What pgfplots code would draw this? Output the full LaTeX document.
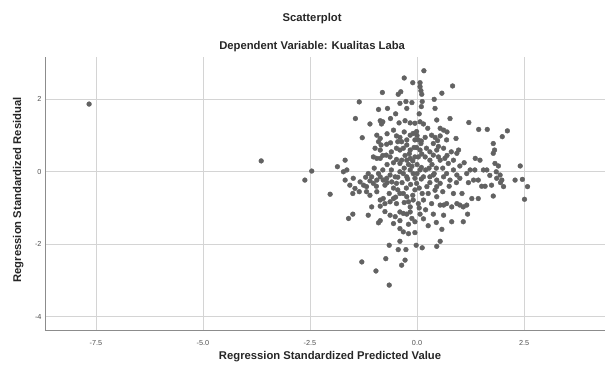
\documentclass[border=0pt]{standalone}
\usepackage{pgfplots}
\pgfplotsset{compat=1.18}
\usepackage{fontspec}
\setmainfont{Liberation Sans}
\definecolor{ptgray}{HTML}{626262}
\definecolor{gridgray}{HTML}{D4D4D4}
\definecolor{axgray}{HTML}{8C8C8C}
\definecolor{tickgray}{HTML}{505050}
\begin{document}
\begin{tikzpicture}
\useasboundingbox (0,0) rectangle (607bp,368bp);
\begin{axis}[
  at={(45bp,38bp)}, anchor=south west,
  scale only axis, width=560bp, height=273bp,
  xmin=-8.69, xmax=4.39, ymin=-4.37, ymax=3.17,
  axis lines*=left,
  axis line style={axgray, line width=0.8pt, -},
  grid=major,
  major grid style={gridgray, line width=0.6pt},
  major tick length=0pt,
  xtick={-7.5,-5,-2.5,0,2.5},
  xticklabels={-7.5,-5.0,-2.5,0.0,2.5},
  ytick={-4,-2,0,2},
  yticklabels={-4,-2,0,2},
  tick label style={font=\fontsize{7.3}{8}\selectfont, text=tickgray},
  xticklabel style={anchor=north, yshift=-7bp},
  every axis x label/.style={at={(axis description cs:0.509,-0.099)}, anchor=center},
  every axis y label/.style={at={(axis description cs:-0.048,0.513)}, anchor=center, rotate=90},
  label style={font=\fontsize{11.3}{13}\selectfont\bfseries, text=black!85},
  xlabel={Regression Standardized Predicted Value},
  ylabel={Regression Standardized Residual},
  clip=false,
]
\addplot[only marks, mark=*, mark size=2.4bp, mark options={fill=ptgray, draw=ptgray}] coordinates {
(-7.66,1.87) (-3.64,0.30)
(0.16,2.79) (-0.30,2.59) (-0.10,2.46) (0.07,2.46) (0.07,2.35) (0.09,2.24) (0.11,2.14)
(0.83,2.37) (-0.81,2.19) (-0.44,2.14) (-0.38,2.21) (0.58,2.17) (-1.35,1.93) (-0.40,1.89)
(-0.26,1.94) (-0.12,1.91) (0.12,1.94) (0.40,2.00) (-0.90,1.72) (-0.69,1.75) (-0.24,1.75)
(0.42,1.75) (-1.44,1.47) (-1.10,1.32) (-0.86,1.41) (-0.83,1.32) (-0.80,1.38) (-0.62,1.47)
(-0.42,1.35) (-0.28,1.41) (-0.16,1.35) (-0.05,1.34) (0.07,1.38) (0.15,1.32) (0.46,1.43)
(0.77,1.47) (1.21,1.36) (1.44,1.17) (1.64,1.17) (2.11,1.13) (1.99,0.97) (-1.28,0.94)
(0.54,1.20) (0.62,1.15)
(-0.94,1.01) (-0.86,0.92) (-0.90,0.83) (-0.84,0.74) (-0.71,0.76) (-0.48,0.99) (-0.40,0.95)
(-0.45,0.83) (-0.36,0.83) (-0.24,0.88) (-0.16,1.01) (-0.09,1.06) (-0.01,1.11) (-0.05,0.88)
(0.03,0.88) (0.09,0.78) (0.19,0.95) (0.34,1.01) (0.42,0.95) (0.38,0.78) (0.48,0.86)
(0.54,0.99) (0.69,0.88) (0.91,0.92) (1.78,0.78) (1.81,0.60)
(-0.98,0.65) (-0.86,0.60) (-1.02,0.41) (-0.94,0.37) (-0.86,0.37) (-0.72,0.46) (-0.63,0.41)
(-0.48,0.65) (-0.40,0.60) (-0.32,0.65) (-0.24,0.74) (-0.16,0.60) (-0.07,0.67) (-0.01,0.67)
(0.07,0.60) (0.11,0.49) (0.03,0.41) (-0.05,0.41) (-0.16,0.37) (-0.24,0.32) (-0.36,0.32)
(-0.40,0.23) (-0.48,0.34) (0.19,0.41) (0.30,0.32) (0.38,0.46) (0.46,0.60) (0.50,0.41)
(0.54,0.32) (0.65,0.37) (0.73,0.23) (0.85,0.32) (0.93,0.51) (0.97,0.60) (1.00,0.16)
(1.36,0.37) (1.47,0.32) (1.55,0.05) (1.78,0.51) (1.82,0.23) (1.90,0.16) (-1.68,0.32)
(-1.86,0.14) (-1.64,0.05) (2.41,0.16)
(-2.62,-0.23) (-2.46,0.02) (-2.03,-0.62) (-1.72,0.00) (-1.68,-0.23) (-1.57,-0.37) (-1.49,-0.18)
(-1.45,-0.46) (-1.33,-0.28) (-1.25,-0.37) (-1.18,-0.41) (-1.14,-0.05) (-1.06,-0.14) (-1.02,-0.32)
(-0.94,-0.23) (-0.86,-0.14) (-0.79,-0.23) (-0.75,-0.37) (-0.71,-0.18) (-0.63,-0.09) (-0.59,-0.28)
(-0.51,-0.14) (-0.48,-0.32) (-0.40,0.00) (-0.32,-0.05) (-0.24,-0.14) (-0.16,0.05) (-0.09,-0.05)
(-0.05,-0.18) (-0.01,-0.32) (0.07,0.05) (0.15,-0.14) (0.23,-0.41) (0.30,-0.14) (0.38,-0.09)
(0.46,-0.23) (0.46,-0.41) (0.54,-0.32) (0.62,-0.14) (0.69,-0.05) (0.77,-0.23) (0.85,0.05)
(0.93,-0.09) (1.00,-0.18) (1.16,-0.05) (1.24,0.05) (1.32,-0.23) (1.43,-0.23) (1.51,-0.40)
(1.59,-0.40) (1.63,0.05) (1.74,-0.37) (1.86,-0.18) (1.94,-0.09) (1.98,-0.23) (2.02,-0.41)
(2.29,-0.23) (2.46,-0.21) (2.58,-0.41) (2.51,-0.76)
(-1.18,-0.55) (-1.10,-0.65) (-0.94,-0.55) (-0.86,-0.78) (-0.79,-0.74) (-0.75,-0.88) (-0.63,-0.83)
(-0.55,-0.74) (-0.48,-0.88) (-0.40,-0.60) (-0.32,-0.60) (-0.24,-0.69) (-0.20,-0.83) (-0.16,-0.97)
(-0.09,-0.78) (0.03,-0.88) (0.15,-0.78) (0.26,-0.60) (0.34,-0.88) (0.42,-0.51) (0.46,-0.69)
(0.54,-0.92) (0.62,-0.92) (0.69,-0.88) (0.81,-0.97) (0.93,-0.88) (1.00,-0.92) (1.08,-0.97)
(1.16,-0.92) (1.28,-0.74) (1.43,-0.74) (1.78,-0.67) (-1.06,-0.97) (-0.86,-0.95)
(-1.60,-1.29) (-1.50,-1.17) (-1.14,-1.20) (-0.90,-1.41) (-0.86,-1.35) (-0.63,-1.20) (-0.51,-1.24)
(-0.55,-1.43) (-0.40,-1.11) (-0.32,-1.15) (-0.24,-1.17) (-0.16,-1.11) (-0.12,-1.29) (-0.05,-1.38)
(0.07,-1.17) (0.38,-1.17) (0.62,-1.20) (0.81,-1.38) (1.08,-1.38) (1.18,-1.17) (-0.40,-1.57)
(-0.32,-1.66) (-0.20,-1.71) (-0.05,-1.68) (0.58,-1.59) (0.26,-1.49)
(-0.65,-2.03) (-0.40,-1.92) (-0.44,-2.15) (-0.26,-2.15) (-0.02,-2.03) (0.12,-2.10) (0.46,-2.06)
(0.54,-1.92) (-1.29,-2.49) (-0.73,-2.40) (-0.28,-2.44) (-0.36,-2.58) (-0.96,-2.74) (-0.65,-3.13)
(-0.70,0.20) (-0.60,0.05) (-0.55,0.25) (-0.30,0.10) (-0.20,0.20) (-0.12,0.15) (0.00,0.20)
(0.10,0.12) (0.20,0.05) (0.28,0.10) (0.35,0.20) (0.60,0.10) (0.70,0.45) (0.80,0.55)
(-0.80,0.05) (-0.90,-0.05) (-1.00,0.10) (-0.70,-0.30) (-0.55,-0.45) (-0.45,-0.50) (-0.35,-0.30)
(-0.25,-0.45) (-0.15,-0.35) (-0.05,-0.50) (0.05,-0.45) (0.12,-0.60) (0.30,-0.30) (0.60,-0.55)
(0.75,-0.40) (0.85,-0.60) (-0.95,-0.40) (-1.10,-0.25) (-1.20,-0.15) (-0.65,-0.60) (-0.50,-0.70)
(-0.30,-0.85) (-0.10,-0.65) (0.05,-1.00) (0.20,-1.05) (0.10,0.85) (0.00,1.00) (-0.30,1.10)
(-0.55,1.15) (-0.70,1.05) (0.25,1.20) (-0.18,0.50) (-0.10,0.30) (0.22,0.65) (0.30,0.55)
(-0.62,0.80) (-0.28,0.45) (0.45,0.10) (1.10,0.25) (1.20,-0.30) (1.35,0.05) (1.70,-0.10)
(1.85,0.00) (1.95,-0.30) (0.92,-0.30) (1.05,-0.60) (-1.35,-0.55) (-1.50,-0.60) (-0.40,-1.35)
(-0.20,-1.45) (0.15,-1.30) (0.45,-1.40) (-0.75,-1.10) (0.70,1.10) (0.05,1.60) (-0.50,1.60)
(0.10,1.80) (-0.60,0.55) (-0.80,0.45) (0.50,0.70) (0.62,0.65) (0.40,-0.05) (-0.45,-0.15)
(0.00,-0.05) (0.10,-0.20) (-0.22,-0.20)
};
\node[font=\fontsize{11.3}{13}\selectfont\bfseries, text=black!85] at (axis description cs:0.477,1.139) {Scatterplot};
\node[font=\fontsize{11.3}{13}\selectfont\bfseries, text=black!85] at (axis description cs:0.477,1.039) {Dependent Variable: Kualitas Laba};
\end{axis}
\end{tikzpicture}
\end{document}
